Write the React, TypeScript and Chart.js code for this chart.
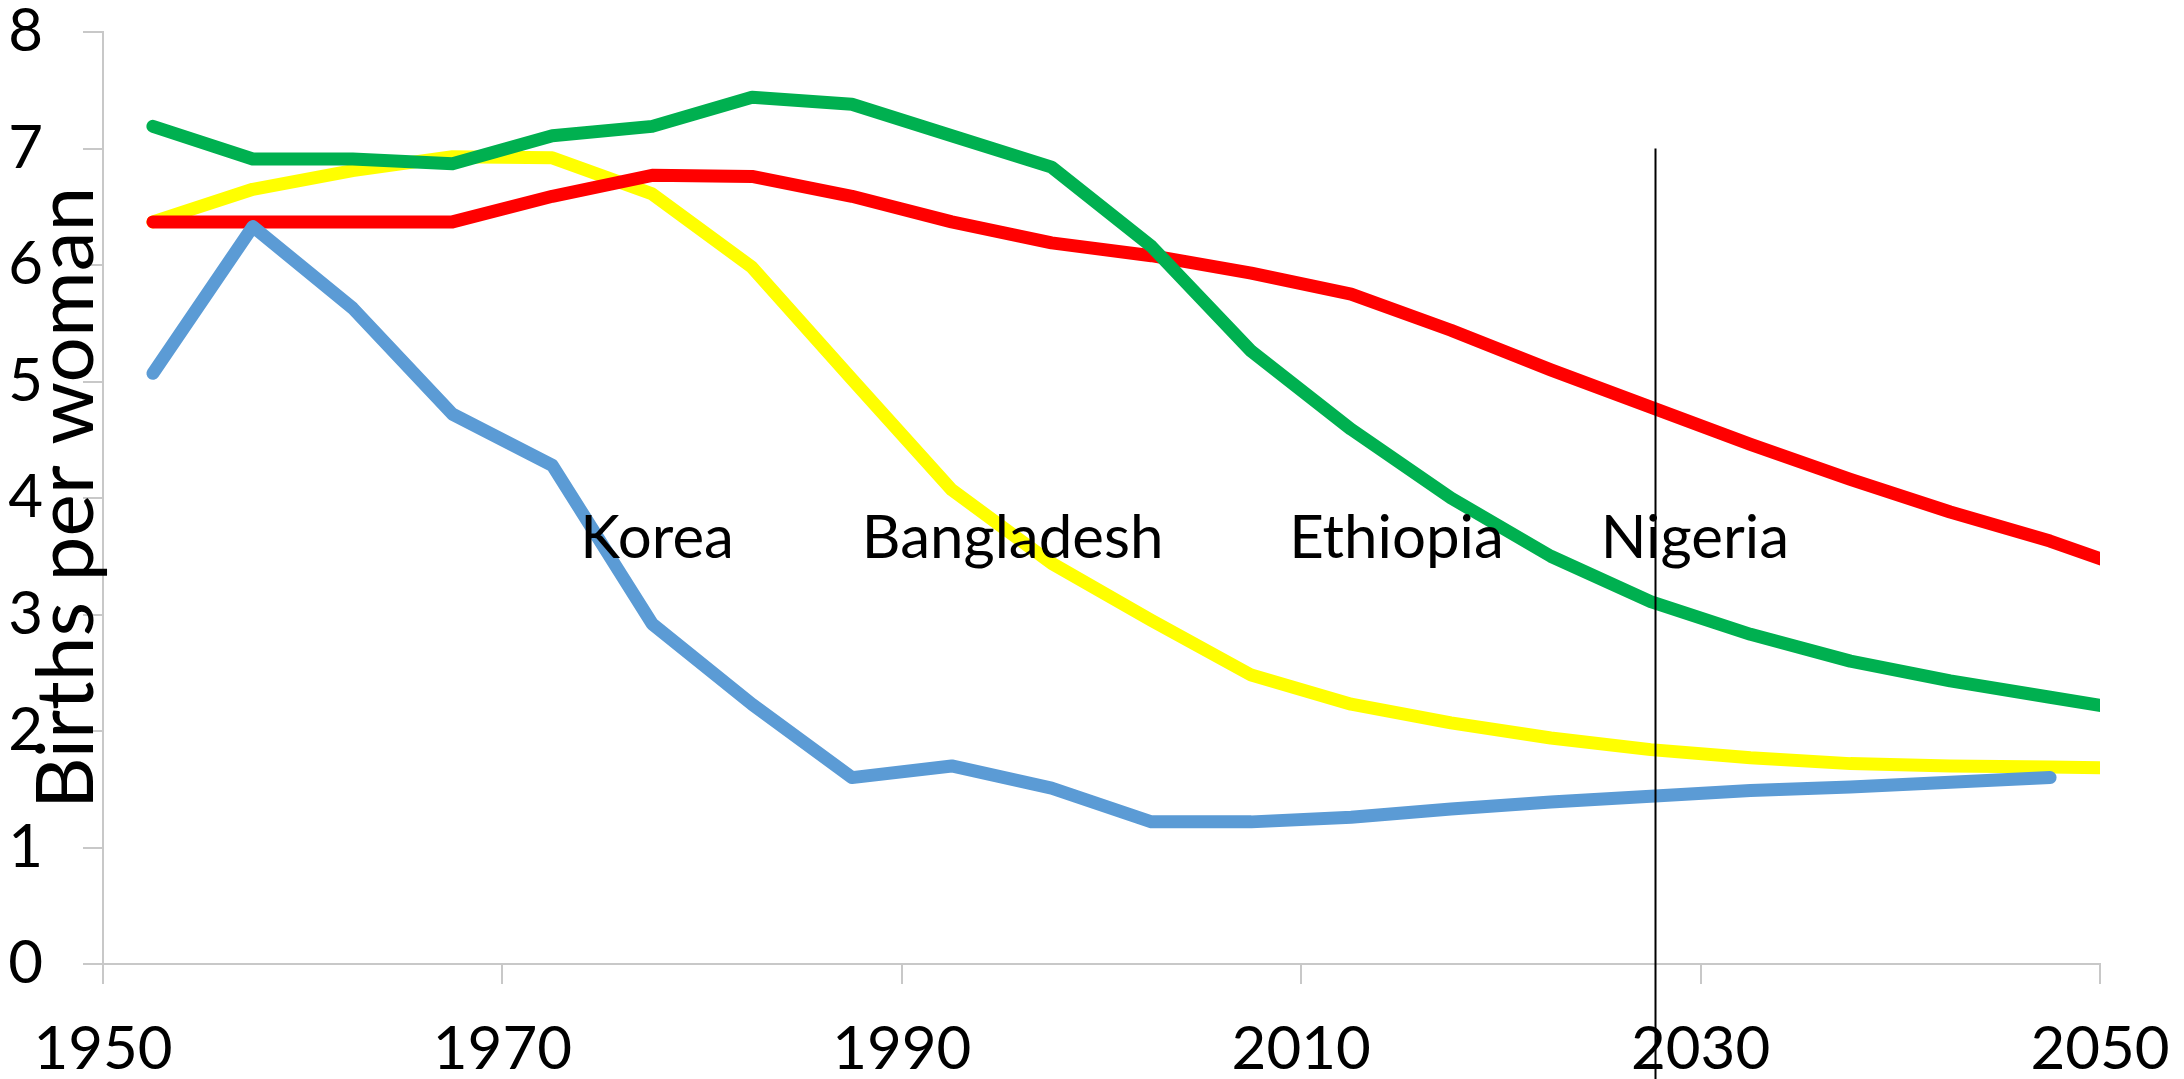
import React, { useEffect, useRef } from 'react';
import { Chart, registerables } from 'chart.js';

Chart.register(...registerables);

// Period mid-points (5-year periods)
const years = [
  1952.5, 1957.5, 1962.5, 1967.5, 1972.5, 1977.5, 1982.5, 1987.5, 1992.5, 1997.5,
  2002.5, 2007.5, 2012.5, 2017.5, 2022.5, 2027.5, 2032.5, 2037.5, 2042.5, 2047.5, 2052.5,
];

const korea = [5.07, 6.33, 5.63, 4.72, 4.28, 2.92, 2.23, 1.6, 1.7, 1.51, 1.22, 1.22, 1.26, 1.33, 1.39, 1.44, 1.49, 1.52, 1.56, 1.6];
const bangladesh = [6.37, 6.65, 6.81, 6.93, 6.92, 6.61, 5.98, 5.02, 4.07, 3.44, 2.95, 2.48, 2.23, 2.07, 1.94, 1.84, 1.77, 1.72, 1.7, 1.69, 1.68];
const ethiopia = [7.19, 6.91, 6.91, 6.87, 7.11, 7.19, 7.44, 7.38, 7.11, 6.84, 6.16, 5.26, 4.59, 4.0, 3.5, 3.11, 2.83, 2.6, 2.43, 2.29, 2.15];
const nigeria = [6.37, 6.37, 6.37, 6.37, 6.59, 6.77, 6.76, 6.59, 6.37, 6.19, 6.08, 5.93, 5.75, 5.44, 5.1, 4.78, 4.46, 4.16, 3.88, 3.63, 3.33];

const xTicks = [1950, 1970, 1990, 2010, 2030, 2050];
const yTicks = [0, 1, 2, 3, 4, 5, 6, 7, 8];

const countryLabels = ['Korea', 'Bangladesh', 'Ethiopia', 'Nigeria'];
const countryLabelYears = [1973.9, 1988.0, 2009.4, 2025.0];
const countryLabelValue = 3.65;

const markerYear = 2027.7;
const markerTop = 7;

const yTitle = 'Births per woman';

const FONT = "Lato, 'Noto Sans', sans-serif";

const toPoints = (vals: number[]) => vals.map((v, i) => ({ x: years[i], y: v }));

export default function App() {
  const ref = useRef<HTMLCanvasElement | null>(null);

  useEffect(() => {
    document.body.style.margin = '0';
    const canvas = ref.current;
    if (!canvas) return;

    const overlay = {
      id: 'overlay',
      afterDatasetsDraw(chart: any) {
        const { ctx, scales } = chart;
        const xs = scales.x;
        const ys = scales.y;
        ctx.save();
        // vertical marker
        const mx = Math.round(xs.getPixelForValue(markerYear)) + 0.5;
        ctx.strokeStyle = '#000000';
        ctx.lineWidth = 2;
        ctx.beginPath();
        ctx.moveTo(mx, ys.getPixelForValue(markerTop));
        ctx.lineTo(mx, chart.height);
        ctx.stroke();
        // country labels
        ctx.fillStyle = '#000000';
        ctx.font = `60px ${FONT}`;
        ctx.textAlign = 'left';
        ctx.textBaseline = 'middle';
        countryLabels.forEach((name, i) => {
          ctx.fillText(name, xs.getPixelForValue(countryLabelYears[i]), ys.getPixelForValue(countryLabelValue));
        });
        ctx.restore();
      },
      afterDraw(chart: any) {
        const { ctx, chartArea } = chart;
        ctx.save();
        ctx.translate(chartArea.left - 36, (chartArea.top + chartArea.bottom) / 2);
        ctx.rotate(-Math.PI / 2);
        ctx.fillStyle = '#000000';
        ctx.font = `80px ${FONT}`;
        ctx.textAlign = 'center';
        ctx.textBaseline = 'middle';
        ctx.fillText(yTitle, 0, 0);
        ctx.restore();
      },
    };

    const common = {
      fill: false,
      pointRadius: 0,
      pointHoverRadius: 0,
      borderWidth: 13,
      borderCapStyle: 'round' as const,
      borderJoinStyle: 'round' as const,
      tension: 0,
      clip: 0,
    };

    const chart = new Chart(canvas, {
      type: 'line',
      data: {
        datasets: [
          { ...common, label: 'Korea', data: toPoints(korea), borderColor: '#5B9BD5', order: 0 },
          { ...common, label: 'Ethiopia', data: toPoints(ethiopia), borderColor: '#00B050', order: 1 },
          { ...common, label: 'Nigeria', data: toPoints(nigeria), borderColor: '#FF0000', order: 2 },
          { ...common, label: 'Bangladesh', data: toPoints(bangladesh), borderColor: '#FFFF00', order: 3 },
        ],
      },
      options: {
        responsive: false,
        animation: false,
        events: [],
        layout: { padding: { top: 32, right: 84, left: 0, bottom: 0 } },
        plugins: { legend: { display: false }, tooltip: { enabled: false }, title: { display: false } },
        scales: {
          x: {
            type: 'linear',
            min: 1950,
            max: 2050,
            afterBuildTicks: (s: any) => {
              s.ticks = xTicks.map((v) => ({ value: v }));
            },
            afterFit: (s: any) => {
              s.height = 115;
              s.paddingLeft = 0;
              s.paddingRight = 0;
            },
            ticks: {
              autoSkip: false,
              maxRotation: 0,
              padding: 30,
              color: '#000000',
              font: { family: FONT, size: 60, lineHeight: 1.2 },
              callback: (v: any) => String(v),
            },
            grid: { drawOnChartArea: false, drawTicks: true, tickLength: 20, color: '#C8C8C8', lineWidth: 2 },
            border: { color: '#C8C8C8', width: 2 },
          },
          y: {
            type: 'linear',
            min: 0,
            max: 8,
            afterBuildTicks: (s: any) => {
              s.ticks = yTicks.map((v) => ({ value: v }));
            },
            afterFit: (s: any) => {
              s.width = 103;
              s.paddingTop = 0;
              s.paddingBottom = 0;
            },
            ticks: {
              autoSkip: false,
              padding: 40,
              color: '#000000',
              font: { family: FONT, size: 60, lineHeight: 1.2 },
              callback: (v: any) => String(v),
            },
            grid: { drawOnChartArea: false, drawTicks: true, tickLength: 20, color: '#C8C8C8', lineWidth: 2 },
            border: { color: '#C8C8C8', width: 2 },
          },
        },
      },
      plugins: [overlay],
    } as any);

    return () => chart.destroy();
  }, []);

  return <canvas ref={ref} width={2184} height={1079} style={{ display: 'block' }} />;
}
